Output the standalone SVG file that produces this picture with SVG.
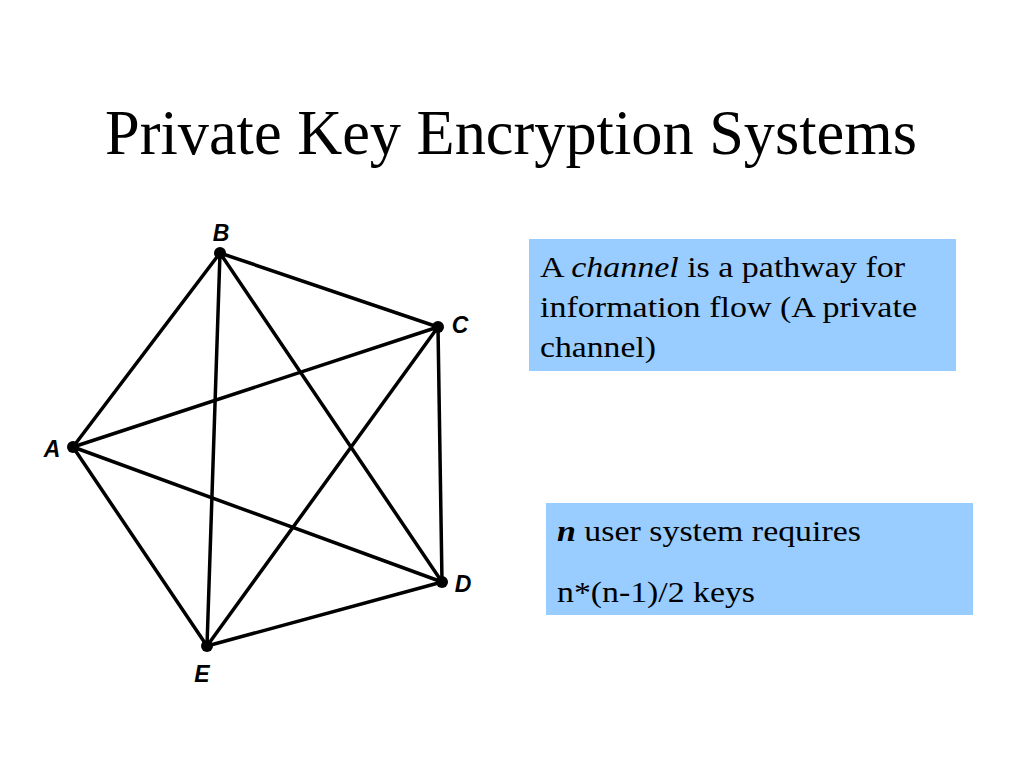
<svg xmlns="http://www.w3.org/2000/svg" width="1024" height="768" viewBox="0 0 1024 768">
<style>
.edge{stroke:#000;stroke-width:3.5;stroke-linecap:round;fill:none}
.dot{fill:#000}
.lbl{font-family:"Liberation Sans",Arial,sans-serif;font-style:italic;font-weight:bold;font-size:23px;fill:#000;text-anchor:middle}
.box{fill:#99CCFF}
.txt{font-family:"Liberation Serif","Times New Roman",serif;font-size:29px;fill:#000}
</style>
<rect width="1024" height="768" fill="#fff"/>
<text x="511" y="154" font-family="Liberation Serif, 'Times New Roman', serif" font-size="64" text-anchor="middle" textLength="812" lengthAdjust="spacingAndGlyphs">Private Key Encryption Systems</text>
<g id="connectors">
<line class="edge" x1="73" y1="447" x2="220" y2="253"/>
<line class="edge" x1="73" y1="447" x2="438" y2="327"/>
<line class="edge" x1="73" y1="447" x2="442" y2="582"/>
<line class="edge" x1="73" y1="447" x2="207" y2="646"/>
<line class="edge" x1="220" y1="253" x2="438" y2="327"/>
<line class="edge" x1="220" y1="253" x2="442" y2="582"/>
<line class="edge" x1="220" y1="253" x2="207" y2="646"/>
<line class="edge" x1="438" y1="327" x2="442" y2="582"/>
<line class="edge" x1="438" y1="327" x2="207" y2="646"/>
<line class="edge" x1="442" y1="582" x2="207" y2="646"/>
</g>
<g id="node-A"><circle class="dot" cx="73" cy="447" r="6"/><text class="lbl" x="52" y="457">A</text></g>
<g id="node-B"><circle class="dot" cx="220" cy="253" r="6"/><text class="lbl" x="221" y="241">B</text></g>
<g id="node-C"><circle class="dot" cx="438" cy="327" r="6"/><text class="lbl" x="460" y="333">C</text></g>
<g id="node-D"><circle class="dot" cx="442" cy="582" r="6"/><text class="lbl" x="463" y="592">D</text></g>
<g id="node-E"><circle class="dot" cx="207" cy="646" r="6"/><text class="lbl" x="202" y="682">E</text></g>
<g id="box-channel">
<rect class="box" x="529" y="239" width="427" height="132"/>
<text class="txt" x="540" y="277" textLength="365" lengthAdjust="spacingAndGlyphs">A <tspan font-style="italic">channel</tspan> is a pathway for</text>
<text class="txt" x="540" y="317" textLength="377" lengthAdjust="spacingAndGlyphs">information flow (A private</text>
<text class="txt" x="540" y="357" textLength="116" lengthAdjust="spacingAndGlyphs">channel)</text>
</g>
<g id="box-keys">
<rect class="box" x="546" y="503" width="427" height="112"/>
<text class="txt" x="557" y="541" textLength="304" lengthAdjust="spacingAndGlyphs"><tspan font-style="italic" font-weight="bold">n</tspan> user system requires</text>
<text class="txt" x="557" y="602" textLength="198" lengthAdjust="spacingAndGlyphs">n*(n-1)/2 keys</text>
</g>
</svg>
